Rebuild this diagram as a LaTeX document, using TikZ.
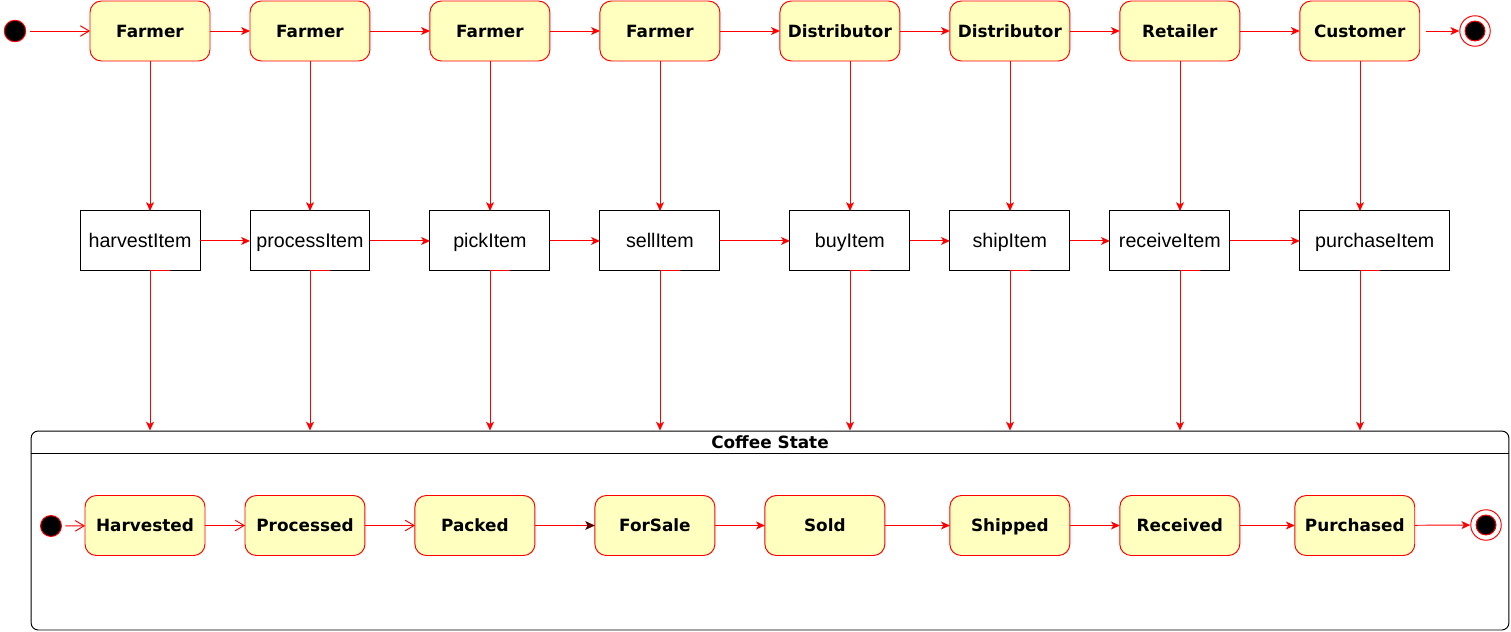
\documentclass[tikz,border=0pt]{standalone}
\usepackage{fontspec}
\setmainfont{Liberation Sans}
\newfontfamily\statefont{DejaVu Sans}
\usetikzlibrary{arrows.meta, positioning}
\usepackage{xcolor}
\definecolor{paleyellow}{HTML}{FFFFC0}
\definecolor{umlred}{HTML}{FF0000}

\begin{document}
\begin{tikzpicture}[
    x=0.02cm, y=-0.02cm,
    role/.style={rectangle, rounded corners=6.5pt,
                 draw=umlred, fill=paleyellow, text=black,
                 line width=0.55pt, inner sep=0pt, outer sep=0pt,
                 minimum width=2.4cm, minimum height=1.2cm,
                 text height=7pt, text depth=0pt,
                 font=\statefont\bfseries\fontsize{9.6}{11}\selectfont},
    action/.style={rectangle, draw=black, fill=white, text=black,
                   line width=0.55pt, inner sep=0pt, outer sep=0pt,
                   minimum width=2.4cm, minimum height=1.2cm,
                   text height=8pt, text depth=0pt,
                   font=\fontsize{11.2}{13}\selectfont},
    startdot/.style={circle, draw=umlred, fill=black, line width=0.55pt,
                     minimum size=0.43cm, inner sep=0pt},
    enddot/.style={circle, draw=umlred, fill=white, line width=0.55pt,
                   minimum size=0.61cm, inner sep=0pt,
                   path picture={\fill[black, draw=umlred]
                     (path picture bounding box.center) circle (0.2cm);}},
    flow/.style={draw=umlred, line width=0.55pt,
                 -{Stealth[length=5pt, width=4.5pt, inset=1.3pt]}},
    openflow/.style={draw=umlred, line width=0.55pt,
                     -{Straight Barb[length=5pt, width=6pt]}},
    darkflow/.style={draw=umlred, line width=0.55pt,
                     -{Stealth[length=5.5pt, width=5pt, inset=1.3pt, color=red!35!black]}},
    edge/.style={draw=umlred, line width=0.55pt},
    box/.style={draw=black, line width=0.55pt, rounded corners=4pt, inner sep=0pt},
  ]
    \useasboundingbox (0,0) rectangle (1511,632);

    % actors
    \node[startdot] (start) at (15,31) {};
    \node[role] (f1) at (150,31) {Farmer};
    \node[role, right=0.8cm of f1] (f2) {Farmer};
    \node[role, right=1.2cm of f2] (f3) {Farmer};
    \node[role, right=1.0cm of f3] (f4) {Farmer};
    \node[role, right=1.2cm of f4] (d1) {Distributor};
    \node[role, right=1.0cm of d1] (d2) {Distributor};
    \node[role, right=1.0cm of d2] (ret) {Retailer};
    \node[role, right=1.2cm of ret] (cust) {Customer};
    \node[enddot] (end) at (1475,31) {};

    % functions
    \node[action, below=3cm of f1, xshift=-0.2cm] (harvest)  {harvestItem};
    \node[action, below=3cm of f2]                (process)  {processItem};
    \node[action, below=3cm of f3]                (pick)     {pickItem};
    \node[action, below=3cm of f4]                (sell)     {sellItem};
    \node[action, below=3cm of d1, xshift=0.2cm]  (buy)      {buyItem};
    \node[action, below=3cm of d2]                (ship)     {shipItem};
    \node[action, below=3cm of ret, xshift=-0.2cm] (receive) {receiveItem};
    \node[action, below=3cm of cust, xshift=0.3cm, minimum width=3cm] (purchase) {purchaseItem};

    % Coffee State
    \node[box, minimum width=29.56cm, minimum height=3.98cm] (coffee) at (770,530.5) {};
    \node[font=\statefont\bfseries\fontsize{9.6}{11}\selectfont] (title) at (770,442) {Coffee State};
    \coordinate (hdr) at (0,453);
    \draw[line width=0.55pt] (coffee.west |- hdr) -- (coffee.east |- hdr);

    \node[startdot, minimum size=0.42cm] (cstart) at (51,526) {};
    \node[role] (harvested) at (145,525.5) {Harvested};
    \node[role, right=0.8cm of harvested] (processed) {Processed};
    \node[role, right=1.0cm of processed] (packed)    {Packed};
    \node[role, right=1.2cm of packed]    (forsale)   {ForSale};
    \node[role, right=1.0cm of forsale]   (sold)      {Sold};
    \node[role, right=1.3cm of sold]      (shipped)   {Shipped};
    \node[role, right=1.0cm of shipped]   (received)  {Received};
    \node[role, right=1.1cm of received]  (purchased) {Purchased};
    \node[enddot] (cend) at (1486,525) {};

    % top row
    \draw[openflow, shorten <=0.08cm] (start) -- (f1);
    \foreach \a/\b in {f1/f2, f2/f3, f3/f4, f4/d1, d1/d2, d2/ret, ret/cust}
      \draw[flow] (\a) -- (\b);
    \draw[flow, shorten <=0.12cm] (cust) -- (end);

    % middle row
    \foreach \a/\b in {harvest/process, process/pick, pick/sell, sell/buy,
                       buy/ship, ship/receive, receive/purchase}
      \draw[flow] (\a) -- (\b);

    % columns
    \foreach \t/\m/\x in {f1/harvest/150, f2/process/310, f3/pick/490, f4/sell/660,
                          d1/buy/850, d2/ship/1010, ret/receive/1180, cust/purchase/1360} {
      \coordinate (col) at (\x,0);
      \draw[flow] (\t.south -| col) -- (\m.north -| col);
      \draw[edge] (\m.south -| col) -- ++(0.4cm,0);
      \draw[flow] (\m.south -| col) -- (coffee.north -| col);
    }

    % bottom row
    \draw[openflow, shorten <=0.07cm] (cstart) -- (harvested);
    \draw[openflow] (harvested) -- (processed);
    \draw[openflow] (processed) -- (packed);
    \draw[darkflow] (packed) -- (forsale);
    \foreach \a/\b in {forsale/sold, sold/shipped, shipped/received,
                       received/purchased, purchased/cend}
      \draw[flow] (\a) -- (\b);
  \end{tikzpicture}
\end{document}
